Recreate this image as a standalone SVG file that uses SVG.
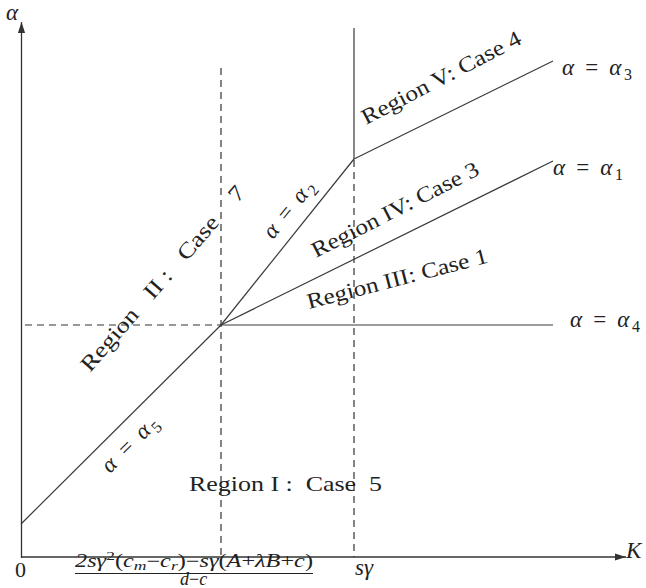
<svg xmlns="http://www.w3.org/2000/svg" width="646" height="588" viewBox="0 0 646 588">
<style>
.ax{stroke:#333;stroke-width:1.3;fill:none}
.ln{stroke:#3a3a3a;stroke-width:1.2;fill:none}
.ds{stroke:#333;stroke-width:1.2;fill:none;stroke-dasharray:7 5}
text{font-family:"Liberation Serif","DejaVu Serif",serif;fill:#222}
.t{font-size:22px}
.m{font-size:23px;font-style:italic}
.n{font-style:normal}
.s{font-size:16px;font-style:normal}
.f{font-size:18px;font-style:italic}
.fs{font-size:13px}
</style>
<defs>
<marker id="ah" viewBox="0 0 10 10" refX="10" refY="5" markerWidth="11" markerHeight="9" markerUnits="userSpaceOnUse" orient="auto" preserveAspectRatio="none">
<path d="M0,1 L10,5 L0,9 z" fill="#333"/>
</marker>
</defs>
<rect width="646" height="588" fill="#fff"/>
<g id="connectors">
<line class="ax" x1="21.5" y1="558" x2="21.5" y2="22" marker-end="url(#ah)"/>
<line class="ax" x1="21" y1="557" x2="626" y2="557" marker-end="url(#ah)"/>
<line class="ds" x1="221" y1="68" x2="221" y2="557"/>
<line class="ds" x1="354" y1="160" x2="354" y2="557"/>
<line class="ds" x1="25" y1="325" x2="221" y2="325"/>
<line class="ln" x1="354" y1="28" x2="354" y2="159"/>
<line class="ln" x1="221" y1="325" x2="553" y2="325"/>
<line class="ln" x1="21" y1="524" x2="221" y2="325"/>
<line class="ln" x1="221" y1="325" x2="354" y2="159"/>
<line class="ln" x1="354" y1="159" x2="553" y2="61"/>
<line class="ln" x1="221" y1="325" x2="553" y2="161"/>
</g>
<g id="axis-labels">
<text class="m" x="6" y="20">α</text>
<text class="t" x="15" y="577">0</text>
<text class="m" x="626" y="558">K</text>
<text class="m" x="355" y="575" font-size="21">sγ</text>
<text class="f" x="75" y="567" textLength="238" lengthAdjust="spacingAndGlyphs">2sγ<tspan class="fs n" dy="-7">2</tspan><tspan class="n" dy="7">(</tspan>c<tspan class="fs" dy="3">m</tspan><tspan class="n" dy="-3">−</tspan>c<tspan class="fs" dy="3">r</tspan><tspan class="n" dy="-3">)−</tspan>sγ<tspan class="n">(</tspan>A<tspan class="n">+</tspan>λB<tspan class="n">+</tspan>c<tspan class="n">)</tspan></text>
<line x1="75" y1="573.5" x2="313" y2="573.5" stroke="#222" stroke-width="1"/>
<text class="f" x="180" y="585" font-size="14">d<tspan class="n">−</tspan>c</text>
</g>
<g id="line-labels">
<text class="m" x="562" y="75" xml:space="preserve" textLength="70">α <tspan class="n">=</tspan> α<tspan class="s" dy="5">3</tspan></text>
<text class="m" x="553" y="175" xml:space="preserve" textLength="70">α <tspan class="n">=</tspan> α<tspan class="s" dy="5">1</tspan></text>
<text class="m" x="570" y="327" xml:space="preserve" textLength="70">α <tspan class="n">=</tspan> α<tspan class="s" dy="5">4</tspan></text>
<text class="m" transform="translate(273,240) rotate(-51)" xml:space="preserve" textLength="68">α <tspan class="n">=</tspan> α<tspan class="s" dy="5">2</tspan></text>
<text class="m" transform="translate(110,474) rotate(-45)" xml:space="preserve" textLength="70">α <tspan class="n">=</tspan> α<tspan class="s" dy="5">5</tspan></text>
</g>
<g id="region-labels">
<text class="t" transform="translate(366,125) rotate(-27.5)" textLength="177" lengthAdjust="spacingAndGlyphs">Region V: Case 4</text>
<text class="t" transform="translate(316,258) rotate(-27)" textLength="185" lengthAdjust="spacingAndGlyphs">Region IV: Case 3</text>
<text class="t" transform="translate(309,309) rotate(-14.5)" textLength="186" lengthAdjust="spacingAndGlyphs">Region III: Case 1</text>
<text class="t" transform="translate(90,373) rotate(-49)" xml:space="preserve" textLength="238" lengthAdjust="spacingAndGlyphs">Region   II :   Case    7</text>
<text class="t" x="189" y="491" xml:space="preserve" textLength="193" lengthAdjust="spacingAndGlyphs">Region I :  Case  5</text>
</g>
</svg>
